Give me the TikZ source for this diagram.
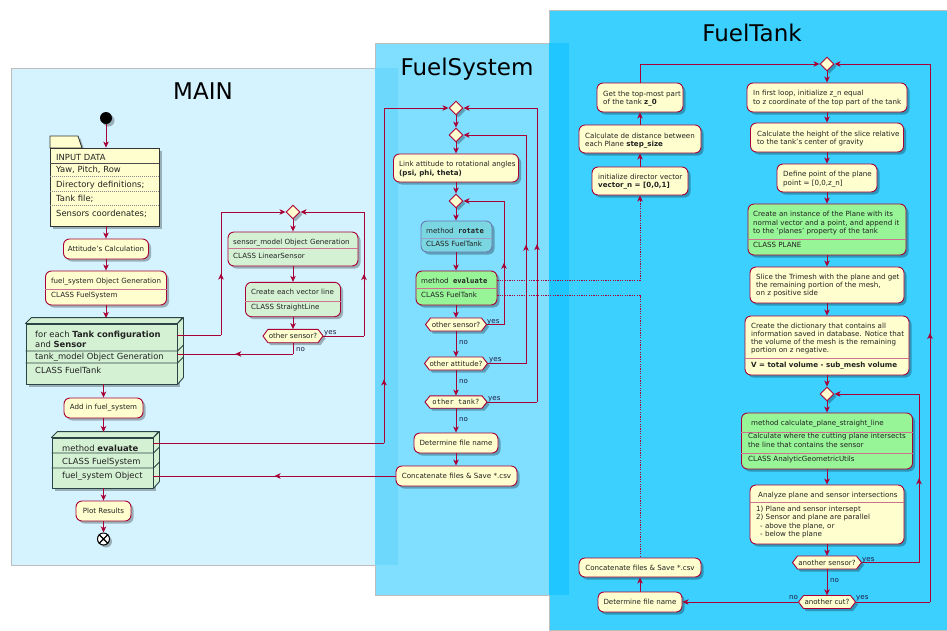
\documentclass[tikz,border=0pt]{standalone}
\usepackage{fontspec}
\setmainfont{DejaVu Sans}
\setmonofont{DejaVu Sans Mono}
\usetikzlibrary{shapes.geometric,arrows.meta,shadows,decorations.markings}
\definecolor{beige}{HTML}{FEFECE}
\definecolor{crim}{HTML}{A80036}
\definecolor{lgreen}{HTML}{D4F1D4}
\definecolor{bgreen}{HTML}{97F597}
\definecolor{tealf}{HTML}{7AD6E0}
\definecolor{tealb}{HTML}{6E76B4}
\definecolor{slate}{HTML}{2B4545}
\definecolor{pmain}{HTML}{D5F3FF}
\definecolor{pfs}{HTML}{80DEFF}
\definecolor{pft}{HTML}{3CD0FF}
\definecolor{pmainfs}{HTML}{6DD7FC}
\definecolor{pfsft}{HTML}{20C6FF}
\definecolor{txt}{HTML}{222222}
\definecolor{pline}{HTML}{BDBDBD}
\newcommand\fsm{\fontsize{7.1}{8.5}\selectfont}
\newcommand\fbg{\fontsize{8.4}{9.6}\selectfont}
\newcommand\fttl{\fontsize{23}{26}\selectfont}
\newcommand\hexnode[6]{%
  \filldraw[hexshape] ({#2-#4},#3) -- ({#2-#4+5},{#3-#5}) -- ({#2+#4-5},{#3-#5}) -- ({#2+#4},#3) -- ({#2+#4-5},{#3+#5}) -- ({#2-#4+5},{#3+#5}) -- cycle;
  \node[hextext, minimum width={2*#4}, minimum height={2*#5}] (#1) at (#2,#3) {#6};}
\tikzset{
  shad/.style={drop shadow={shadow xshift=2.5pt,shadow yshift=-2.5pt,opacity=0.28,fill=black}},
  box/.style={draw=crim, fill=beige, line width=0.9pt, rounded corners=6pt, inner sep=0pt, font=\fsm, text=txt, shad},
  boxg/.style={box, fill=bgreen},
  boxl/.style={box, fill=lgreen},
  boxrot/.style={box, fill=tealf, draw=tealb},
  box3/.style={draw=slate, fill=lgreen, line width=0.9pt, inner sep=0pt, shad},
  face3/.style={draw=slate, fill=lgreen, line width=0.9pt, line join=round},
  sep/.style={draw=crim!55, line width=0.8pt},
  sepr/.style={draw=tealb!70, line width=0.8pt},
  sep3/.style={draw=slate, line width=0.8pt},
  notes/.style={draw=black!80, fill=beige, line width=0.8pt, shad},
  noteb/.style={notes, inner sep=0pt},
  notesolid/.style={draw=black!70, line width=0.6pt},
  notedot/.style={draw=black!45, line width=0.6pt, dash pattern=on 1pt off 1pt},
  dia/.style={diamond, draw=crim, fill=beige, line width=0.9pt, minimum width=14pt, minimum height=14pt, inner sep=0pt, shad},
  hexshape/.style={draw=crim, fill=beige, line width=0.9pt, shad},
  hextext/.style={inner sep=0pt, font=\fsm, text=txt},
  tx/.style={inner sep=0pt, anchor=base west, font=\fsm, text=txt},
  txb/.style={tx, font=\fbg},
  lbl/.style={inner sep=0pt, anchor=base west, font=\fsm, text=txt!85!blue},
  ttl/.style={inner sep=0pt, anchor=base, font=\fttl, text=black},
  startn/.style={circle, fill=black, minimum size=12pt, inner sep=0pt, shad},
  stopn/.style={circle, draw=black, fill=white, line width=1pt, minimum size=12pt, inner sep=0pt, shad},
  flow/.style={color=crim, line width=0.9pt},
  arr/.style={flow, -{Stealth[length=6pt,width=5.5pt,inset=1.6pt]}},
  midarr/.style={flow, postaction={decorate}, decoration={markings, mark=at position #1 with {\arrow{Stealth[length=6pt,width=5.5pt,inset=1.6pt]}}}},
  midarr/.default=0.5,
  dotflow/.style={flow, dash pattern=on 1.2pt off 1.2pt},
  dotarr/.style={dotflow, -{Stealth[length=6pt,width=5.5pt,inset=1.6pt]}},
  panel/.style={draw=pline, line width=0.6pt},
}
\begin{document}
\begin{tikzpicture}[x=1pt,y=-1pt]
\useasboundingbox (0,0) rectangle (947,630);
\fill[white] (0,0) rectangle (947,630);
% panels
\filldraw[fill=pmain, panel] (11,68) rectangle (398,565);
\filldraw[fill=pfs, panel] (375,43) rectangle (569,595);
\fill[pmainfs] (375.3,68) rectangle (398,565);
\filldraw[fill=pft, panel] (549,10) rectangle (947.5,630.5);
\fill[pfsft] (549.3,43) rectangle (569,595);
\node[ttl] (tmain) at (203,99) {MAIN};
\node[ttl] (tfs) at (467,75) {FuelSystem};
\node[ttl] (tft) at (752,41.5) {FuelTank};

% ---------------- MAIN ----------------
\node[startn] (start) at (106,118) {};
\filldraw[notes] (50,148) -- (50,136) -- (78,136) -- (82,148) -- cycle;
\node[noteb, minimum width=109, minimum height=78] (inp) at (104.5,187) {};
\draw[notesolid] (inp.west |- 0,163) -- (inp.east |- 0,163);
\draw[notedot] (inp.west |- 0,176.5) -- (inp.east |- 0,176.5);
\draw[notedot] (inp.west |- 0,191) -- (inp.east |- 0,191);
\draw[notedot] (inp.west |- 0,205) -- (inp.east |- 0,205);
\node[txb] (inp1) at (56,160) {INPUT DATA};
\node[txb] (inp2) at (56,172) {Yaw, Pitch, Row};
\node[txb] (inp3) at (56,187) {Directory definitions;};
\node[txb] (inp4) at (56,201) {Tank file;};
\node[txb] (inp5) at (56,216) {Sensors coordenates;};

\node[box, minimum width=85, minimum height=20] (att) at (106,249) {Attitude's Calculation};
\node[box, minimum width=121, minimum height=34] (fsgen) at (106,288) {};
\draw[sep] (fsgen.west |- 0,289) -- (fsgen.east |- 0,289);
\node[tx] (fsgen1) at (51,283.3) {fuel\_system Object Generation};
\node[tx] (fsgen2) at (51,297.3) {CLASS FuelSystem};

\node[box3, minimum width=151, minimum height=60] (fe) at (101.5,354) {};
\filldraw[face3] (fe.north west) -- ++(6,-6) -- ++(151,0) -- (fe.north east) -- cycle;
\filldraw[face3] (fe.north east) -- ++(6,-6) -- ++(0,60) -- (fe.south east) -- cycle;
\draw[sep3] (fe.west |- 0,351) -- (fe.east |- 0,351) -- ++(6,-6);
\draw[sep3] (fe.west |- 0,363) -- (fe.east |- 0,363) -- ++(6,-6);
\node[txb] (fe1) at (35,337.8) {for each \textbf{Tank configuration}};
\node[txb] (fe2) at (35,347.3) {and \textbf{Sensor}};
\node[txb] (fe3) at (35,359.5) {tank\_model Object Generation};
\node[txb] (fe4) at (35,373.8) {CLASS FuelTank};

\node[box, minimum width=79, minimum height=20] (addfs) at (103.5,408) {Add in fuel\_system};
\node[box3, minimum width=101, minimum height=50] (evm) at (102.5,463) {};
\filldraw[face3] (evm.north west) -- ++(6,-6) -- ++(101,0) -- (evm.north east) -- cycle;
\filldraw[face3] (evm.north east) -- ++(6,-6) -- ++(0,50) -- (evm.south east) -- cycle;
\draw[sep3] (evm.west |- 0,453) -- (evm.east |- 0,453) -- ++(6,-6);
\draw[sep3] (evm.west |- 0,468) -- (evm.east |- 0,468) -- ++(6,-6);
\node[txb] (evm1) at (62,451.5) {method \textbf{evaluate}};
\node[txb] (evm2) at (62,464) {CLASS FuelSystem};
\node[txb] (evm3) at (62,478) {fuel\_system Object};
\node[box, minimum width=55, minimum height=20] (plot) at (103.5,511) {Plot Results};
\node[stopn] (stop) at (103.5,539) {};
\draw[line width=1.2pt] (stop.north west) -- (stop.south east) (stop.north east) -- (stop.south west);

\node[dia] (dm1) at (293,212) {};
\node[boxl, minimum width=130, minimum height=34] (sens) at (293,249) {};
\draw[sep] (sens.west |- 0,248.3) -- (sens.east |- 0,248.3);
\node[tx] (sens1) at (233,244) {sensor\_model Object Generation};
\node[tx] (sens2) at (233,258) {CLASS LinearSensor};
\node[boxl, minimum width=95, minimum height=34.4] (vec) at (293,299.5) {};
\draw[sep] (vec.west |- 0,301) -- (vec.east |- 0,301);
\node[tx] (vec1) at (251,294.6) {Create each vector line};
\node[tx] (vec2) at (251,309) {CLASS StraightLine};
\hexnode{hex1}{293}{336}{30}{6.7}{other sensor?}

% ---------------- FuelSystem ----------------
\node[dia] (fd1) at (456,108) {};
\node[dia] (fd2) at (456,135) {};
\node[box, minimum width=125, minimum height=28] (link) at (456,168) {};
\node[tx] (link1) at (399,166.3) {Link attitude to rotational angles};
\node[tx] (link2) at (399,175) {\textbf{(psi, phi, theta)}};
\node[dia] (fd3) at (456,201) {};
\node[boxrot, minimum width=71, minimum height=31] (rot) at (456.5,236.5) {};
\draw[sepr] (rot.west |- 0,238) -- (rot.east |- 0,238);
\node[tx] (rot1) at (426,233) {method\ \ {\ttfamily\bfseries rotate}};
\node[tx] (rot2) at (426,246.3) {CLASS FuelTank};
\node[boxg, minimum width=81, minimum height=34] (evf) at (456.5,288) {};
\draw[sep] (evf.west |- 0,288.3) -- (evf.east |- 0,288.3);
\node[tx] (evf1) at (421,283) {method\ \ {\ttfamily\bfseries evaluate}};
\node[tx] (evf2) at (421,297.3) {CLASS FuelTank};
\hexnode{hexS}{456}{324.5}{30.5}{6.5}{other sensor?}
\hexnode{hexA}{456}{363.5}{31.5}{6.5}{other attitude?}
\hexnode{hexT}{456}{402}{31}{6.2}{{\ttfamily other tank?}}
\node[box, minimum width=84, minimum height=20] (detF) at (456,443) {Determine file name};
\node[box, minimum width=121, minimum height=20] (catF) at (456.5,476) {Concatenate files \& Save *.csv};

% ---------------- FuelTank ----------------
\node[box, minimum width=86, minimum height=29] (ztop) at (640,97.5) {};
\node[tx] (ztop1) at (603,96.3) {Get the top-most part};
\node[tx] (ztop2) at (603,104.6) {of the tank \textbf{z\_0}};
\node[box, minimum width=122, minimum height=28] (dist) at (640,139) {};
\node[tx] (dist1) at (585,138) {Calculate de distance between};
\node[tx] (dist2) at (585,146.3) {each Plane \textbf{step\_size}};
\node[box, minimum width=96, minimum height=28] (init) at (640,181) {};
\node[tx] (init1) at (598,179) {initialize director vector};
\node[tx] (init2) at (598,187.3) {\textbf{vector\_n = [0,0,1]}};
\node[box, minimum width=122, minimum height=19] (catT) at (640,567.5) {Concatenate files \& Save *.csv};
\node[box, minimum width=84, minimum height=20] (detT) at (640,602) {Determine file name};

\node[dia] (td1) at (827,64) {};
\node[box, minimum width=160, minimum height=29] (b1) at (827,97.5) {};
\node[tx] (b1a) at (753,95.6) {In first loop, initialize z\_n equal};
\node[tx] (b1b) at (753,104.3) {to z coordinate of the top part of the tank};
\node[box, minimum width=153, minimum height=29] (b2) at (827,137.5) {};
\node[tx] (b2a) at (757,136.3) {Calculate the height of the slice relative};
\node[tx] (b2b) at (757,144.6) {to the tank's center of gravity};
\node[box, minimum width=100, minimum height=28] (b3) at (827,178) {};
\node[tx] (b3a) at (783,176.6) {Define point of the plane};
\node[tx] (b3b) at (783,185) {point = [0,0,z\_n]};
\node[boxg, minimum width=158, minimum height=51] (b4) at (827,229.5) {};
\draw[sep] (b4.west |- 0,239) -- (b4.east |- 0,239);
\node[tx] (b4a) at (753,216.6) {Create an instance of the Plane with its};
\node[tx] (b4b) at (753,225) {normal vector and a point, and append it};
\node[tx] (b4c) at (753,233.3) {to the 'planes' property of the tank};
\node[tx] (b4d) at (753,247) {CLASS PLANE};
\node[box, minimum width=154, minimum height=36] (b5) at (827,285) {};
\node[tx] (b5a) at (756,279) {Slice the Trimesh with the plane and get};
\node[tx] (b5b) at (756,287.3) {the remaining portion of the mesh,};
\node[tx] (b5c) at (756,295.6) {on z positive side};
\node[box, minimum width=164, minimum height=59] (b6) at (827,345.5) {};
\draw[sep] (b6.west |- 0,358) -- (b6.east |- 0,358);
\node[tx] (b6a) at (751,328.3) {Create the dictionary that contains all};
\node[tx] (b6b) at (751,336.3) {information saved in database. Notice that};
\node[tx] (b6c) at (751,344.6) {the volume of the mesh is the remaining};
\node[tx] (b6d) at (751,352.5) {portion on z negative.};
\node[tx] (b6e) at (751,367.3) {\textbf{V = total volume - sub\_mesh volume}};
\node[dia] (td2) at (827,394) {};
\node[boxg, minimum width=171, minimum height=56] (b7) at (827,441) {};
\draw[sep] (b7.west |- 0,432) -- (b7.east |- 0,432);
\draw[sep] (b7.west |- 0,453) -- (b7.east |- 0,453);
\node[tx] (b7a) at (751,425) {method calculate\_plane\_straight\_line};
\node[tx] (b7b) at (748,438.8) {Calculate where the cutting plane intersects};
\node[tx] (b7c) at (748,447.5) {the line that contains the sensor};
\node[tx] (b7d) at (748,461.6) {CLASS AnalyticGeometricUtils};
\node[box, minimum width=154, minimum height=59] (b8) at (827,514.5) {};
\draw[sep] (b8.west |- 0,502) -- (b8.east |- 0,502);
\node[tx] (b8a) at (758,497.3) {Analyze plane and sensor intersections};
\node[tx] (b8b) at (756,511.3) {1) Plane and sensor intersept};
\node[tx] (b8c) at (756,519.6) {2) Sensor and plane are parallel};
\node[tx] (b8d) at (760,528) {- above the plane, or};
\node[tx] (b8e) at (760,536.3) {- below the plane};
\hexnode{hexAS}{827}{562.5}{34.5}{6.5}{another sensor?}
\hexnode{hexAC}{827}{602}{28.5}{6.5}{another cut?}

% ---------------- connectors: MAIN ----------------
\draw[arr] (start) -- (start |- inp.north);
\draw[arr] (att.north |- inp.south) -- (att.north);
\draw[arr] (att.south) -- (fsgen.north);
\coordinate (fetop) at (106,318);
\draw[arr] (fsgen.south) -- (fetop);
\draw[arr] (addfs.north |- fe.south) -- (addfs.north);
\coordinate (evmtop) at (103.5,432);
\draw[arr] (addfs.south) -- (evmtop);
\draw[arr] (plot.north |- evm.south) -- (plot.north);
\draw[arr] (plot.south) -- (stop.north);

\coordinate (mL) at (221,335);
\draw[flow] (fe.east |- mL) -- (mL);
\draw[midarr] (mL) -- (mL |- dm1);
\draw[arr] (mL |- dm1) -- (dm1.west);
\draw[arr] (dm1.south) -- (sens.north);
\draw[arr] (sens.south) -- (vec.north);
\draw[arr] (vec.south) -- (hex1.north);
\coordinate (mR) at (364,336);
\draw[flow] (hex1.east) -- (mR);
\draw[midarr] (mR) -- (mR |- dm1);
\draw[arr] (mR |- dm1) -- (dm1.east);
\coordinate (mN) at (293,354);
\draw[flow] (hex1.south) -- (mN);
\draw[midarr] (mN) -- (fe.east |- mN);
\node[lbl] (l1) at (324,334.5) {yes};
\node[lbl] (l2) at (296,351.5) {no};

% MAIN <-> FuelSystem
\coordinate (fsL) at (384,443);
\draw[flow] (evm.east |- fsL) -- (fsL);
\draw[midarr=0.19] (fsL) -- (fsL |- fd1);
\draw[arr] (fsL |- fd1) -- (fd1.west);
\draw[midarr] (catF.west) -- (evm.east |- catF.west);

% ---------------- connectors: FuelSystem ----------------
\draw[arr] (fd1.south) -- (fd2.north);
\draw[arr] (fd2.south) -- (link.north);
\draw[arr] (link.south) -- (fd3.north);
\draw[arr] (fd3.south) -- (rot.north -| fd3);
\draw[arr] (rot.south -| fd3) -- (evf.north -| fd3);
\draw[arr] (evf.south -| fd3) -- (hexS.north);
\draw[arr] (hexS.south) -- (hexA.north);
\draw[arr] (hexA.south) -- (hexT.north);
\draw[arr] (hexT.south) -- (detF.north);
\draw[arr] (detF.south) -- (catF.north -| detF);
\coordinate (sR) at (504,324.5);
\draw[flow] (hexS.east) -- (sR);
\draw[midarr] (sR) -- (sR |- fd3);
\draw[arr] (sR |- fd3) -- (fd3.east);
\coordinate (aR) at (526,363.5);
\draw[flow] (hexA.east) -- (aR);
\draw[midarr=0.52] (aR) -- (aR |- fd2);
\draw[arr] (aR |- fd2) -- (fd2.east);
\coordinate (tR) at (537,402);
\draw[flow] (hexT.east) -- (tR);
\draw[midarr=0.537] (tR) -- (tR |- fd1);
\draw[arr] (tR |- fd1) -- (fd1.east);
\node[lbl] (l3) at (487,323) {yes};
\node[lbl] (l4) at (459,344) {no};
\node[lbl] (l5) at (489,361.6) {yes};
\node[lbl] (l6) at (459,383) {no};
\node[lbl] (l7) at (488,400.6) {yes};
\node[lbl] (l8) at (459,421.6) {no};

% FuelSystem -> FuelTank (dotted)
\coordinate (dA) at (640,280.5);
\draw[dotarr] (evf.east |- dA) -- (dA) -- (init.south);
\coordinate (dB) at (640,295);
\draw[dotflow] (evf.east |- dB) -- (dB) -- (catT.north);

% ---------------- connectors: FuelTank ----------------
\draw[arr] (init.north) -- (dist.south);
\draw[arr] (dist.north) -- (ztop.south);
\draw[arr] (ztop.north) |- (td1.west);
\draw[arr] (detT.north) -- (catT.south);
\draw[arr] (hexAC.west) -- (detT.east);
\draw[arr] (td1.south) -- (b1.north);
\draw[arr] (b1.south) -- (b2.north);
\draw[arr] (b2.south) -- (b3.north);
\draw[arr] (b3.south) -- (b4.north);
\draw[arr] (b4.south) -- (b5.north);
\draw[arr] (b5.south) -- (b6.north);
\draw[arr] (b6.south) -- (td2.north);
\draw[arr] (td2.south) -- (b7.north);
\draw[arr] (b7.south) -- (b8.north);
\draw[arr] (b8.south) -- (hexAS.north);
\draw[arr] (hexAS.south) -- (hexAC.north);
\coordinate (r1) at (919,562.5);
\draw[flow] (hexAS.east) -- (r1);
\draw[midarr] (r1) -- (r1 |- td2);
\draw[arr] (r1 |- td2) -- (td2.east);
\coordinate (r2) at (930,602);
\draw[flow] (hexAC.east) -- (r2);
\draw[midarr] (r2) -- (r2 |- td1);
\draw[arr] (r2 |- td1) -- (td1.east);
\node[lbl] (l9) at (862,561) {yes};
\node[lbl] (l10) at (830,582.7) {no};
\node[lbl] (l11) at (789,599.7) {no};
\node[lbl] (l12) at (856,599.7) {yes};
\end{tikzpicture}
\end{document}
